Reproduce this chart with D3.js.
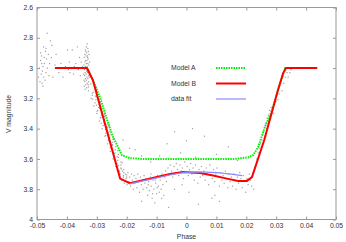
<!DOCTYPE html>
<html>
<head>
<meta charset="utf-8">
<script src="https://cdn.jsdelivr.net/npm/d3@7"></script>
<style>
  body { margin: 0; background: #fff; }
  text { font-family: "Liberation Sans", Arial, sans-serif; fill: #333; }
</style>
</head>
<body>
<div id="chart"></div>
<script>
var svgWidth = 346;
var svgHeight = 242;

var margin = { top: 7.5, right: 10, bottom: 22.5, left: 37 };
var width = svgWidth - margin.left - margin.right;
var height = svgHeight - margin.top - margin.bottom;

// tick values
var xTicks = [-0.05, -0.04, -0.03, -0.02, -0.01, 0, 0.01, 0.02, 0.03, 0.04, 0.05];
var yTicks = [2.6, 2.8, 3, 3.2, 3.4, 3.6, 3.8, 4];

// legend labels
var seriesNames = ["Model A", "Model B", "data fit"];

// Model A (green dotted)
var modelAPhase = [-0.044, -0.0333, -0.0313, -0.029, -0.0266, -0.0246, -0.0232, -0.0216, -0.019, -0.015,
  0.016, 0.0206, 0.0223, 0.024, 0.0262, 0.0286, 0.0303, 0.032, 0.033, 0.0437];
var modelAMag = [3.0, 3.0, 3.08, 3.19, 3.34, 3.455, 3.51, 3.575, 3.595, 3.60,
  3.60, 3.59, 3.575, 3.52, 3.39, 3.28, 3.165, 3.06, 3.0, 3.0];

// Model B (red)
var modelBPhase = [-0.044, -0.0333, -0.0313, -0.0222, -0.019, -0.0145, -0.0099, -0.0055, -0.0012, 0.0045,
  0.0089, 0.0135, 0.0172, 0.0202, 0.0219, 0.026, 0.0306, 0.0323, 0.0333, 0.0437];
var modelBMag = [3.0, 3.0, 3.08, 3.73, 3.76, 3.74, 3.72, 3.70, 3.687, 3.693,
  3.71, 3.73, 3.745, 3.745, 3.72, 3.475, 3.145, 3.035, 3.0, 3.0];

// data fit (blue)
var fitPhase = [-0.019, -0.0145, -0.0099, -0.0055, -0.0012, 0.0045, 0.0102, 0.015, 0.0186];
var fitMag = [3.765, 3.745, 3.725, 3.705, 3.69, 3.685, 3.69, 3.70, 3.71];

// observed points [phase, magnitude]
var observed = [
  // far left
  [-0.0466,2.77],[-0.0455,2.82],[-0.0478,2.86],[-0.0450,2.85],[-0.0472,2.89],[-0.0485,2.92],[-0.0462,2.91],
  [-0.0468,2.94],[-0.0488,2.95],[-0.0475,2.97],[-0.0458,2.97],[-0.0480,2.99],[-0.0492,3.00],[-0.0465,3.00],
  [-0.0482,3.02],[-0.0470,3.03],[-0.0486,3.04],[-0.0460,3.05],[-0.0477,3.06],[-0.0495,3.06],[-0.0473,3.08],
  [-0.0490,3.09],[-0.0483,3.10],[-0.0480,3.12],[-0.0452,2.93],[-0.0447,3.06],[-0.0488,2.90],[-0.0470,2.87],
  [-0.0476,2.93],[-0.0484,2.97],
  // sparse before ingress
  [-0.0436,2.91],[-0.0427,3.03],[-0.0420,2.97],[-0.0413,3.06],[-0.0405,2.99],[-0.0398,2.88],[-0.0392,2.96],
  [-0.0390,3.03],[-0.0382,2.88],[-0.0375,2.99],[-0.0370,2.97],[-0.0365,2.86],[-0.0362,3.01],[-0.0358,2.93],
  [-0.0352,2.96],[-0.0348,2.99],[-0.0440,2.98],[-0.0395,3.01],[-0.0378,3.04],[-0.0355,3.05],
  // dense column
  [-0.0332,2.84],[-0.0335,2.86],[-0.0330,2.87],[-0.0338,2.88],[-0.0328,2.89],[-0.0334,2.90],[-0.0340,2.91],
  [-0.0326,2.91],[-0.0336,2.92],[-0.0331,2.93],[-0.0342,2.93],[-0.0329,2.94],[-0.0337,2.95],[-0.0333,2.95],
  [-0.0324,2.96],[-0.0340,2.96],[-0.0335,2.97],[-0.0330,2.97],[-0.0343,2.98],[-0.0327,2.98],[-0.0338,2.99],
  [-0.0332,2.99],[-0.0345,3.00],[-0.0336,3.00],[-0.0329,3.01],[-0.0341,3.01],[-0.0334,3.02],[-0.0326,3.02],
  [-0.0339,3.03],[-0.0331,3.03],[-0.0344,3.04],[-0.0336,3.04],[-0.0328,3.05],[-0.0341,3.05],[-0.0333,3.06],
  [-0.0325,3.06],[-0.0338,3.07],[-0.0330,3.07],[-0.0343,3.08],[-0.0335,3.08],[-0.0327,3.09],[-0.0340,3.09],
  [-0.0332,3.10],[-0.0337,3.11],[-0.0329,3.11],[-0.0342,3.12],[-0.0334,3.13],[-0.0339,3.14],[-0.0331,2.92],
  [-0.0337,2.89],
  // ingress band
  [-0.0328,3.15],[-0.0312,3.16],[-0.0301,3.17],[-0.0315,3.18],[-0.0302,3.19],[-0.0319,3.20],[-0.0303,3.21],
  [-0.0292,3.22],[-0.0306,3.23],[-0.0292,3.24],[-0.0310,3.25],[-0.0294,3.26],[-0.0283,3.27],[-0.0297,3.28],
  [-0.0283,3.29],[-0.0300,3.30],[-0.0285,3.31],[-0.0274,3.32],[-0.0288,3.33],[-0.0274,3.34],[-0.0291,3.35],
  [-0.0276,3.36],[-0.0265,3.37],[-0.0279,3.38],[-0.0265,3.39],[-0.0282,3.40],[-0.0266,3.41],[-0.0256,3.42],
  [-0.0270,3.43],[-0.0256,3.44],[-0.0273,3.45],[-0.0257,3.46],[-0.0246,3.47],[-0.0261,3.48],[-0.0247,3.49],
  [-0.0264,3.50],[-0.0248,3.51],[-0.0237,3.52],[-0.0251,3.53],[-0.0238,3.54],[-0.0255,3.55],[-0.0239,3.56],
  [-0.0228,3.57],[-0.0242,3.58],[-0.0228,3.59],[-0.0246,3.60],[-0.0230,3.61],[-0.0219,3.62],[-0.0233,3.63],
  [-0.0219,3.64],[-0.0236,3.65],[-0.0220,3.66],[-0.0210,3.67],[-0.0224,3.68],[-0.0210,3.69],[-0.0227,3.70],
  [-0.0211,3.71],[-0.0200,3.72],
  [-0.0320,3.105],[-0.0328,3.125],[-0.0303,3.145],[-0.0315,3.165],[-0.0305,3.185],[-0.0314,3.205],[-0.0288,3.225],
  [-0.0301,3.245],[-0.0291,3.265],[-0.0299,3.285],[-0.0274,3.305],[-0.0286,3.325],[-0.0276,3.345],[-0.0285,3.365],
  [-0.0259,3.385],[-0.0271,3.405],[-0.0262,3.425],[-0.0270,3.445],[-0.0244,3.465],[-0.0257,3.485],[-0.0247,3.505],
  [-0.0255,3.525],[-0.0230,3.545],[-0.0242,3.565],[-0.0232,3.585],[-0.0241,3.605],[-0.0215,3.625],[-0.0227,3.645],
  [-0.0218,3.665],[-0.0226,3.685],[-0.0200,3.705],
  // eclipse floor
  [-0.0220,3.70],[-0.0217,3.74],[-0.0214,3.68],[-0.0211,3.72],[-0.0208,3.76],[-0.0205,3.70],[-0.0202,3.73],
  [-0.0199,3.77],[-0.0196,3.69],[-0.0193,3.75],[-0.0190,3.72],[-0.0187,3.78],[-0.0184,3.70],[-0.0181,3.74],
  [-0.0178,3.80],[-0.0175,3.71],[-0.0172,3.76],[-0.0169,3.73],[-0.0166,3.79],[-0.0163,3.70],[-0.0160,3.75],
  [-0.0157,3.82],[-0.0154,3.72],[-0.0151,3.77],[-0.0148,3.74],[-0.0145,3.80],[-0.0142,3.71],[-0.0139,3.76],
  [-0.0136,3.73],[-0.0133,3.79],[-0.0130,3.84],[-0.0127,3.75],[-0.0124,3.81],[-0.0121,3.72],[-0.0118,3.78],
  [-0.0115,3.86],[-0.0112,3.74],[-0.0109,3.80],[-0.0106,3.89],[-0.0103,3.76],[-0.0100,3.83],[-0.0097,3.71],
  [-0.0094,3.78],[-0.0091,3.82],[-0.0088,3.74],[-0.0085,3.80],[-0.0082,3.70],[-0.0079,3.77],[-0.0076,3.84],
  [-0.0073,3.72],[-0.0070,3.68],[-0.0067,3.75],[-0.0128,3.77],[-0.0113,3.83],[-0.0098,3.79],[-0.0083,3.86],
  [-0.0119,3.70],[-0.0105,3.74],
  [-0.0062,3.66],[-0.0058,3.70],[-0.0054,3.64],[-0.0050,3.68],[-0.0046,3.72],[-0.0042,3.65],[-0.0038,3.69],
  [-0.0034,3.63],[-0.0030,3.67],[-0.0026,3.71],[-0.0022,3.64],[-0.0018,3.68],[-0.0014,3.66],[-0.0010,3.73],
  [-0.0006,3.62],[-0.0002,3.69],[0.0002,3.65],[0.0006,3.71],[0.0010,3.67],[0.0014,3.63],[0.0018,3.70],
  [0.0022,3.66],[0.0026,3.74],[0.0030,3.64],[0.0034,3.69],[0.0038,3.76],[0.0042,3.67],[0.0046,3.72],
  [-0.0040,3.80],[0.0008,3.82],[-0.0015,3.77],
  [0.0050,3.65],[0.0054,3.71],[0.0058,3.68],[0.0062,3.74],[0.0066,3.66],[0.0070,3.70],[0.0074,3.77],
  [0.0078,3.64],[0.0082,3.69],[0.0086,3.73],[0.0090,3.67],[0.0094,3.75],[0.0098,3.70],[0.0102,3.66],
  [0.0106,3.72],[0.0110,3.78],[0.0114,3.69],[0.0118,3.74],[0.0122,3.71],[0.0126,3.76],[0.0130,3.68],
  [0.0134,3.73],[0.0138,3.79],[0.0142,3.70],[0.0085,3.86],[0.0110,3.88],[0.0095,3.84],
  [0.0146,3.75],[0.0150,3.72],[0.0154,3.78],[0.0158,3.70],[0.0162,3.74],[0.0166,3.80],[0.0170,3.72],
  [0.0174,3.76],[0.0178,3.69],[0.0182,3.73],[0.0186,3.79],[0.0190,3.71],[0.0194,3.75],[0.0198,3.82],
  [0.0202,3.73],[0.0206,3.77],[0.0210,3.70],[0.0214,3.74],
  // stragglers
  [-0.0190,3.53],[-0.0172,3.54],[-0.0212,3.475],[-0.0150,3.58],[-0.0120,3.62],[-0.0065,3.50],[-0.0020,3.56],
  [0.0000,3.48],[0.0030,3.59],[0.0060,3.45],[0.0100,3.57],[0.0140,3.52],[0.0170,3.61],[-0.0090,3.58],
  [0.0020,3.40],[-0.0040,3.42],[-0.0060,3.92],[0.0040,3.90],[-0.0150,3.88],
  // egress
  [0.0223,3.69],[0.0228,3.66],[0.0230,3.65],[0.0235,3.60],[0.0240,3.56],[0.0243,3.53],[0.0247,3.50],
  [0.0252,3.475],[0.0255,3.44],[0.0257,3.42],[0.0262,3.39],[0.0265,3.37],[0.0267,3.36],[0.0270,3.33],
  [0.0272,3.35],[0.0268,3.40],[0.0275,3.31],[0.0278,3.28],[0.0280,3.33],[0.0283,3.26],[0.0290,3.30],
  [0.0295,3.24],[0.0300,3.22],[0.0306,3.21],[0.0310,3.17],[0.0320,3.15],[0.0325,3.10],[0.0330,3.06],
  [0.0336,3.03],[0.0340,3.06],[0.0346,3.03],[0.0350,3.01],[0.0265,3.45],[0.0258,3.50],[0.0218,3.78],
  [0.0225,3.80]
];

var svg = d3.select("#chart")
  .append("svg")
  .attr("width", svgWidth)
  .attr("height", svgHeight);

var chartGroup = svg.append("g")
  .attr("transform", `translate(${margin.left}, ${margin.top})`);

var xScale = d3.scaleLinear().domain([-0.05, 0.05]).range([0, width]);
var yScale = d3.scaleLinear().domain([2.6, 4]).range([0, height]);

// inward ticks on all four sides, gnuplot style
var fmtX = d => String(+d.toFixed(2));
var fmtY = d => String(+d.toFixed(1));

function styleAxis(g) {
  g.select(".domain").remove();
  g.selectAll("line").attr("stroke", "#999");
  g.selectAll("text").attr("fill", "#333").style("font-size", "6.8px")
    .style("font-family", "Liberation Sans, Arial, sans-serif");
}

chartGroup.append("g")
  .attr("transform", `translate(0, ${height})`)
  .call(d3.axisBottom(xScale).tickValues(xTicks).tickFormat(fmtX).tickSizeInner(-3).tickSizeOuter(0).tickPadding(4))
  .call(styleAxis);

chartGroup.append("g")
  .call(d3.axisTop(xScale).tickValues(xTicks).tickFormat("").tickSizeInner(-3).tickSizeOuter(0))
  .call(styleAxis);

chartGroup.append("g")
  .call(d3.axisLeft(yScale).tickValues(yTicks).tickFormat(fmtY).tickSizeInner(-3).tickSizeOuter(0).tickPadding(4))
  .call(styleAxis);

chartGroup.append("g")
  .attr("transform", `translate(${width}, 0)`)
  .call(d3.axisRight(yScale).tickValues(yTicks).tickFormat("").tickSizeInner(-3).tickSizeOuter(0))
  .call(styleAxis);

// frame
chartGroup.append("rect")
  .attr("width", width)
  .attr("height", height)
  .attr("fill", "none")
  .attr("stroke", "#999")
  .attr("stroke-width", 1);

// observed points
chartGroup.append("g")
  .selectAll("rect")
  .data(observed)
  .enter()
  .append("rect")
  .attr("x", d => xScale(d[0]) - 0.6)
  .attr("y", d => yScale(d[1]) - 0.6)
  .attr("width", 1.2)
  .attr("height", 1.2)
  .attr("fill", "#a0a0a0");

var line = d3.line()
  .x(d => xScale(d[0]))
  .y(d => yScale(d[1]));

var modelA = d3.zip(modelAPhase, modelAMag);
var modelB = d3.zip(modelBPhase, modelBMag);
var fit = d3.zip(fitPhase, fitMag);

chartGroup.append("path")
  .datum(modelA)
  .attr("d", line)
  .attr("fill", "none")
  .attr("stroke", "#00f000")
  .attr("stroke-width", 2)
  .attr("stroke-dasharray", "1.5,1");

chartGroup.append("path")
  .datum(modelB)
  .attr("d", line)
  .attr("fill", "none")
  .attr("stroke", "#ff0000")
  .attr("stroke-width", 2);

chartGroup.append("path")
  .datum(fit)
  .attr("d", line)
  .attr("fill", "none")
  .attr("stroke", "#8a8aff")
  .attr("stroke-width", 1.2);

// legend
var legendStyles = [
  { stroke: "#00f000", width: 2, dash: "1.5,1" },
  { stroke: "#ff0000", width: 2, dash: null },
  { stroke: "#8a8aff", width: 1.2, dash: null }
];

var legend = svg.append("g");
seriesNames.forEach(function(name, i) {
  var y = 68 + i * 15.5;
  legend.append("text")
    .attr("x", 171)
    .attr("y", y)
    .attr("dy", "0.35em")
    .style("font-size", "6.8px")
    .text(name);
  legend.append("line")
    .attr("x1", 216)
    .attr("x2", 246)
    .attr("y1", y)
    .attr("y2", y)
    .attr("stroke", legendStyles[i].stroke)
    .attr("stroke-width", legendStyles[i].width)
    .attr("stroke-dasharray", legendStyles[i].dash);
});

// axis labels
svg.append("text")
  .attr("x", margin.left + width / 2)
  .attr("y", 239)
  .attr("text-anchor", "middle")
  .style("font-size", "6.8px")
  .text("Phase");

svg.append("text")
  .attr("transform", "translate(11, 114) rotate(-90)")
  .attr("text-anchor", "middle")
  .style("font-size", "6.8px")
  .text("V magnitude");
</script>
</body>
</html>
